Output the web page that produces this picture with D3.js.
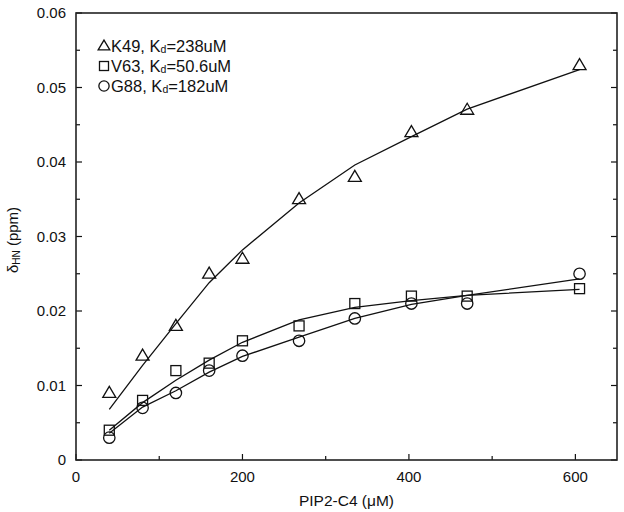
<!DOCTYPE html>
<html>
<head>
<meta charset="utf-8">
<script src="https://cdn.jsdelivr.net/npm/d3@7/dist/d3.min.js"></script>
<style>
  html, body { margin: 0; padding: 0; background: #fff; }
  svg { display: block; font-family: "Liberation Sans", Arial, Helvetica, sans-serif; }
</style>
</head>
<body>
<svg id="chart" width="624" height="512"></svg>
<script>
// ---- data ----
const concentrations = [40, 80, 120, 160, 200, 268, 335, 403, 470, 605];
const k49Obs = [0.009, 0.014, 0.018, 0.025, 0.027, 0.035, 0.038, 0.044, 0.047, 0.053];
const v63Obs = [0.004, 0.008, 0.012, 0.013, 0.016, 0.018, 0.021, 0.022, 0.022, 0.023];
const g88Obs = [0.003, 0.007, 0.009, 0.012, 0.014, 0.016, 0.019, 0.021, 0.021, 0.025];
const k49Fit = [0.0068, 0.0127, 0.0183, 0.0238, 0.0282, 0.0345, 0.0396, 0.0434, 0.0471, 0.0524];
const v63Fit = [0.0040, 0.0077, 0.0107, 0.0134, 0.0158, 0.0188, 0.0205, 0.0214, 0.0221, 0.0229];
const g88Fit = [0.0036, 0.0071, 0.0093, 0.0118, 0.0139, 0.0165, 0.0190, 0.0209, 0.0221, 0.0243];
const xTicks = [0, 200, 400, 600];
const xMinorTicks = [100, 300, 500];
const yTicks = [0, 0.01, 0.02, 0.03, 0.04, 0.05, 0.06];
const yMinorTicks = [0.005, 0.015, 0.025, 0.035, 0.045, 0.055];
const legendNames = ["K49", "V63", "G88"];
const legendKd = ["238uM", "50.6uM", "182uM"];
const legendShapes = ["triangle", "square", "circle"];

// ---- layout ----
const svg = d3.select("#chart");
const L = 76, R = 617, T = 13, B = 460;
const x = d3.scaleLinear().domain([0, 650]).range([L, R]);
const y = d3.scaleLinear().domain([0, 0.06]).range([B, T]);
const ink = "#111";

// ticks (inward)
function tickLines(vals, len, axis) {
  const g = svg.append("g").attr("stroke", ink).attr("stroke-width", 1.2);
  vals.forEach(v => {
    if (axis === "x") {
      g.append("line").attr("x1", x(v)).attr("x2", x(v)).attr("y1", B).attr("y2", B - len);
    } else {
      g.append("line").attr("x1", L).attr("x2", L + len).attr("y1", y(v)).attr("y2", y(v));
      g.append("line").attr("x1", R).attr("x2", R - len).attr("y1", y(v)).attr("y2", y(v));
    }
  });
}
tickLines(xTicks, 6, "x");
tickLines(xMinorTicks, 4, "x");
tickLines(yTicks, 6, "y");
tickLines(yMinorTicks, 4, "y");

// frame
svg.append("rect").attr("x", L).attr("y", T).attr("width", R - L).attr("height", B - T)
  .attr("fill", "none").attr("stroke", "#222").attr("stroke-width", 1.6);

// tick labels
svg.append("g").selectAll("text").data(xTicks).join("text")
  .attr("x", d => x(d)).attr("y", 481.5).attr("text-anchor", "middle")
  .attr("font-size", 15).attr("fill", ink).text(d => d);
svg.append("g").selectAll("text").data(yTicks).join("text")
  .attr("x", 66).attr("y", d => y(d) + 5.3).attr("text-anchor", "end")
  .attr("font-size", 15).attr("fill", ink).text(d => d === 0 ? "0" : d3.format(".2f")(d));

// axis titles
svg.append("text").attr("x", (L + R) / 2).attr("y", 506).attr("text-anchor", "middle")
  .attr("font-size", 15.5).attr("fill", ink).text("PIP2-C4 (μM)");
const yt = svg.append("text").attr("transform", `translate(18,240) rotate(-90)`)
  .attr("text-anchor", "middle").attr("font-size", 15).attr("fill", ink);
yt.append("tspan").text("δ");
yt.append("tspan").attr("font-size", 10).attr("dy", 2).text("HN");
yt.append("tspan").attr("dy", -2).text(" (ppm)");

// fit lines
const line = d3.line().x(d => x(d[0])).y(d => y(d[1]));
[k49Fit, v63Fit, g88Fit].forEach(fit => {
  svg.append("path").datum(concentrations.map((c, i) => [c, fit[i]]))
    .attr("d", line).attr("fill", "none").attr("stroke", ink).attr("stroke-width", 1.3);
});

// markers
function marker(g, shape, cx, cy, k = 1) {
  if (shape === "triangle") {
    const w = 13 * k, h = 11 * k;
    g.append("path").attr("d", `M${cx},${cy - h * 0.6}L${cx + w / 2},${cy + h * 0.4}L${cx - w / 2},${cy + h * 0.4}Z`)
      .attr("fill", "none").attr("stroke", ink).attr("stroke-width", 1.3);
  } else if (shape === "square") {
    const s = 10 * k;
    g.append("rect").attr("x", cx - s / 2).attr("y", cy - s / 2).attr("width", s).attr("height", s)
      .attr("fill", "none").attr("stroke", ink).attr("stroke-width", 1.3);
  } else {
    g.append("circle").attr("cx", cx).attr("cy", cy).attr("r", 5.7 * k)
      .attr("fill", "none").attr("stroke", ink).attr("stroke-width", 1.3);
  }
}
const mg = svg.append("g");
[[k49Obs, "triangle"], [v63Obs, "square"], [g88Obs, "circle"]].forEach(([obs, shape]) => {
  concentrations.forEach((c, i) => marker(mg, shape, x(c), y(obs[i])));
});

// legend
const lg = svg.append("g");
legendNames.forEach((name, i) => {
  const cy = 46 + i * 20;
  marker(lg, legendShapes[i], 104, cy, 0.9);
  const t = lg.append("text").attr("x", 111).attr("y", cy + 6).attr("font-size", 16.5).attr("fill", ink);
  t.append("tspan").text(name + ", K");
  t.append("tspan").attr("font-size", 10.5).attr("dy", 1).text("d");
  t.append("tspan").attr("dy", -1).text("=" + legendKd[i]);
});
</script>
</body>
</html>
